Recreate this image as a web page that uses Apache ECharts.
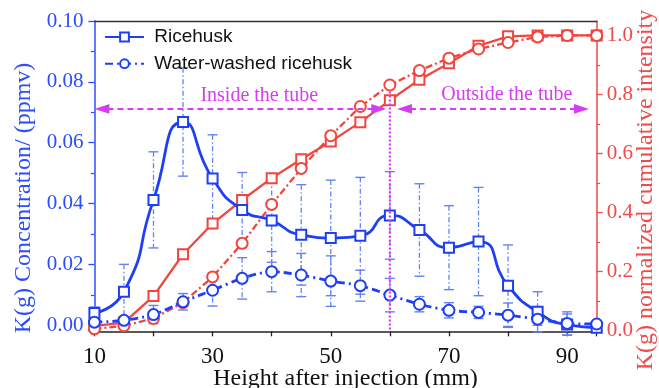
<!DOCTYPE html>
<html>
<head>
<meta charset="utf-8">
<script src="https://cdn.jsdelivr.net/npm/echarts@6/dist/echarts.min.js"></script>
<style>
html,body{margin:0;padding:0;background:#fff;}
#chart{width:659px;height:388px;}
</style>
</head>
<body>
<div id="chart"></div>
<script>
// ---- data ----
const heights = [10, 15, 20, 25, 30, 35, 40, 45, 50, 55, 60, 65, 70, 75, 80, 85, 90, 95];
const riceConc = [0.0040, 0.0110, 0.0412, 0.0668, 0.0482, 0.0379, 0.0344, 0.0297, 0.0287, 0.0294, 0.0361, 0.0313, 0.0255, 0.0275, 0.0130, 0.0044, 0.0002, -0.0008];
const riceErr  = [0.0020, 0.0090, 0.0158, 0.0178, 0.0144, 0.0123, 0.0137, 0.0165, 0.0190, 0.0192, 0.0144, 0.0152, 0.0138, 0.0178, 0.0134, 0.0066, 0.0035, 0.0010];
const washConc = [0.0010, 0.0016, 0.0035, 0.0077, 0.0115, 0.0154, 0.0176, 0.0165, 0.0145, 0.0130, 0.0099, 0.0069, 0.0049, 0.0042, 0.0033, 0.0020, 0.0006, 0.0004];
const washErr  = [0.0005, 0.0010, 0.0030, 0.0027, 0.0052, 0.0068, 0.0066, 0.0071, 0.0083, 0.0051, 0.0055, 0.0025, 0.0025, 0.0020, 0.0040, 0.0020, 0.0038, 0.0010];
const riceCum  = [0.015, 0.026, 0.116, 0.258, 0.362, 0.442, 0.516, 0.580, 0.640, 0.706, 0.780, 0.850, 0.906, 0.965, 0.997, 1.000, 1.000, 1.000];
const washCum  = [0.005, 0.015, 0.040, 0.094, 0.181, 0.295, 0.427, 0.549, 0.660, 0.759, 0.832, 0.881, 0.923, 0.954, 0.976, 0.995, 1.000, 1.000];
const leftTicks  = [0, 0.02, 0.04, 0.06, 0.08, 0.10];
const leftMinor  = [0.01, 0.03, 0.05, 0.07, 0.09];
const rightTicks = [0, 0.2, 0.4, 0.6, 0.8, 1.0];
const rightMinor = [0.1, 0.3, 0.5, 0.7, 0.9];
const seriesNames = ['Ricehusk', 'Water-washed ricehusk'];
// annotation (data coordinates)
const boundaryX = 60;
const arrowLevel = 0.0711;
const insideSpan = [10, 59.4];
const outsideSpan = [61.2, 93.7];
const insideText = 'Inside the tube';
const outsideText = 'Outside the tube';
const insideTextAt = [37.9, 0.0755];
const outsideTextAt = [79.8, 0.0758];
const boundaryTop = 0.0768;

// ---- styles ----
const BLUE = '#1f3ff5';
const BLUE_AX = '#2b4cff';
const ERR = '#6383f2';
const RED = '#f2453d';
const RED_AX = '#f04a4a';
const MAG = '#d63cf2';
const SERIF = '"Liberation Serif", "Times New Roman", serif';
const SANS = '"Liberation Sans", Arial, sans-serif';

const chart = echarts.init(document.getElementById('chart'), null, {renderer: 'canvas'});

const pairs = (ys) => heights.map((x, i) => [x, ys[i]]);
const errData = (ys, es) => heights.map((x, i) => [x, ys[i], es[i]]);

function errRender(params, api) {
  const x = api.value(0), y = api.value(1), e = api.value(2);
  const top = api.coord([x, y + e]);
  const bot = api.coord([x, y - e]);
  const cw = 5;
  const st = {stroke: ERR, lineWidth: 1.3, lineDash: [5, 2.5, 1.5, 2.5], fill: null};
  const cap = {stroke: ERR, lineWidth: 1.4, fill: null};
  return {type: 'group', children: [
    {type: 'line', shape: {x1: top[0], y1: top[1], x2: bot[0], y2: bot[1]}, style: st},
    {type: 'line', shape: {x1: top[0] - cw, y1: top[1], x2: top[0] + cw, y2: top[1]}, style: cap},
    {type: 'line', shape: {x1: bot[0] - cw, y1: bot[1], x2: bot[0] + cw, y2: bot[1]}, style: cap}
  ]};
}

function annoRender(params, api) {
  const a1 = api.coord([insideSpan[0], arrowLevel]);
  const a2 = api.coord([insideSpan[1], arrowLevel]);
  const b1 = api.coord([outsideSpan[0], arrowLevel]);
  const b2 = api.coord([outsideSpan[1], arrowLevel]);
  const v1 = api.coord([boundaryX, boundaryTop]);
  const v2 = api.coord([boundaryX, -0.002]);
  const t1 = api.coord(insideTextAt);
  const t2 = api.coord(outsideTextAt);
  const L = 15, H = 4.8;
  const dash = {stroke: MAG, lineWidth: 2, lineDash: [6, 4], fill: null};
  const head = (tip, dir) => ({type: 'polygon', shape: {points: [[tip[0], tip[1]], [tip[0] - dir * L, tip[1] - H], [tip[0] - dir * L, tip[1] + H]]}, style: {fill: MAG, stroke: null}});
  return {type: 'group', children: [
    {type: 'line', shape: {x1: v1[0], y1: v1[1], x2: v2[0], y2: v2[1]}, style: {stroke: MAG, lineWidth: 2.2, lineDash: [2, 2], fill: null}},
    {type: 'line', shape: {x1: a1[0] + L - 2, y1: a1[1], x2: a2[0] - L + 2, y2: a2[1]}, style: dash},
    head(a1, -1), head(a2, 1),
    {type: 'line', shape: {x1: b1[0] + L - 2, y1: b1[1], x2: b2[0] - L + 2, y2: b2[1]}, style: dash},
    head(b1, -1), head(b2, 1),
    {type: 'text', x: t1[0], y: t1[1], style: {text: insideText, fill: MAG, fontSize: 20, fontFamily: SERIF, align: 'center', verticalAlign: 'middle'}},
    {type: 'text', x: t2[0], y: t2[1], style: {text: outsideText, fill: MAG, fontSize: 20, fontFamily: SERIF, align: 'center', verticalAlign: 'middle'}}
  ]};
}

const hiddenAxisBase = {
  axisLine: {show: false}, axisLabel: {show: false}, splitLine: {show: false}
};

const option = {
  animation: false,
  backgroundColor: '#fff',
  grid: {left: 94.4, right: 62.3, top: 21, bottom: 56.7, containLabel: false},
  legend: {
    data: seriesNames,
    orient: 'vertical',
    left: 99,
    top: 22,
    itemWidth: 39,
    itemHeight: 11,
    itemGap: 6.7,
    formatter: (n) => ' ' + n,
    textStyle: {fontFamily: SANS, fontSize: 19, color: '#111', lineHeight: 20}
  },
  xAxis: [
    {
      type: 'value', min: 10, max: 95, interval: 10, position: 'bottom',
      axisLine: {show: true, onZero: false, lineStyle: {color: '#222', width: 1.5}},
      axisTick: {show: true, inside: false, length: 5, lineStyle: {color: '#222', width: 1.3}},
      axisLabel: {interval: 1, margin: 14, fontFamily: SERIF, fontSize: 23, color: '#111',
        formatter: (v) => (v % 20 === 10 ? String(v) : '')},
      splitLine: {show: false}
    },
    {
      type: 'value', min: 10, max: 95, position: 'top',
      axisLine: {show: true, onZero: false, lineStyle: {color: '#333', width: 1.3}},
      axisTick: {show: false}, axisLabel: {show: false}, splitLine: {show: false}
    }
  ],
  yAxis: [
    {
      type: 'value', min: -0.002, max: 0.1, position: 'left',
      axisLine: {show: true, onZero: false, lineStyle: {color: BLUE_AX, width: 1.5}},
      axisTick: {show: true, length: 6, customValues: leftTicks, lineStyle: {color: BLUE_AX, width: 1.3}},
      axisLabel: {customValues: leftTicks, margin: 11, fontFamily: SERIF, fontSize: 21, color: BLUE_AX,
        formatter: (v) => v.toFixed(2)},
      splitLine: {show: false}
    },
    {
      type: 'value', min: -0.0034, max: 1.049, position: 'right',
      axisLine: {show: true, onZero: false, lineStyle: {color: RED_AX, width: 1.5}},
      axisTick: {show: true, length: 6, customValues: rightTicks, lineStyle: {color: RED_AX, width: 1.3}},
      axisLabel: {customValues: rightTicks, margin: 10, fontFamily: SERIF, fontSize: 21, color: RED_AX,
        formatter: (v) => v.toFixed(1)},
      splitLine: {show: false}
    },
    Object.assign({}, hiddenAxisBase, {
      type: 'value', min: -0.002, max: 0.1, position: 'left',
      axisTick: {show: true, length: 3.5, customValues: leftMinor, lineStyle: {color: BLUE_AX, width: 1.2}}
    }),
    Object.assign({}, hiddenAxisBase, {
      type: 'value', min: -0.0034, max: 1.049, position: 'right',
      axisTick: {show: true, length: 3.5, customValues: rightMinor, lineStyle: {color: RED_AX, width: 1.2}}
    })
  ],
  graphic: [
    {type: 'text', x: 24, y: 198, rotation: Math.PI / 2,
      style: {text: 'K(g) Concentration/ (ppmv)', fill: BLUE_AX, fontSize: 24, fontFamily: SERIF, align: 'center', verticalAlign: 'middle'}},
    {type: 'text', x: 646, y: 190, rotation: Math.PI / 2,
      style: {text: 'K(g) normalized cumulative intensity', fill: RED_AX, fontSize: 24, fontFamily: SERIF, align: 'center', verticalAlign: 'middle'}},
    {type: 'text', x: 345.5, y: 379,
      style: {text: 'Height after injection (mm)', fill: '#111', fontSize: 24, fontFamily: SERIF, align: 'center', verticalAlign: 'middle'}}
  ],
  series: [
    {type: 'custom', name: 'riceErr', xAxisIndex: 0, yAxisIndex: 0, data: errData(riceConc, riceErr), renderItem: errRender, z: 1, silent: true},
    {type: 'custom', name: 'washErr', xAxisIndex: 0, yAxisIndex: 0, data: errData(washConc, washErr), renderItem: errRender, z: 1, silent: true},
    {type: 'custom', name: 'annotation', xAxisIndex: 0, yAxisIndex: 0, data: [[boundaryX, arrowLevel]], renderItem: annoRender, z: 5, silent: true},
    {
      type: 'line', name: 'Ricehusk cumulative', xAxisIndex: 0, yAxisIndex: 1, data: pairs(riceCum),
      symbol: 'emptyRect', symbolSize: 10, smooth: false, z: 3,
      lineStyle: {color: RED, width: 2.3}, itemStyle: {color: RED, borderWidth: 1.3}
    },
    {
      type: 'line', name: 'Water-washed cumulative', xAxisIndex: 0, yAxisIndex: 1, data: pairs(washCum),
      symbol: 'emptyCircle', symbolSize: 11, smooth: false, z: 3,
      lineStyle: {color: RED, width: 2.3, type: [7, 3, 2, 3]}, itemStyle: {color: RED, borderWidth: 1.3}
    },
    {
      type: 'line', name: seriesNames[0], xAxisIndex: 0, yAxisIndex: 0, data: pairs(riceConc),
      symbol: 'emptyRect', symbolSize: 10, smooth: 0.6, z: 4,
      lineStyle: {color: BLUE, width: 2.8}, itemStyle: {color: BLUE, borderWidth: 1.3}
    },
    {
      type: 'line', name: seriesNames[1], xAxisIndex: 0, yAxisIndex: 0, data: pairs(washConc),
      symbol: 'emptyCircle', symbolSize: 11, smooth: 0.3, z: 4,
      lineStyle: {color: BLUE, width: 2.8, type: [8, 4, 2, 4]}, itemStyle: {color: BLUE, borderWidth: 1.3}
    }
  ]
};
chart.setOption(option);
</script>
</body>
</html>
